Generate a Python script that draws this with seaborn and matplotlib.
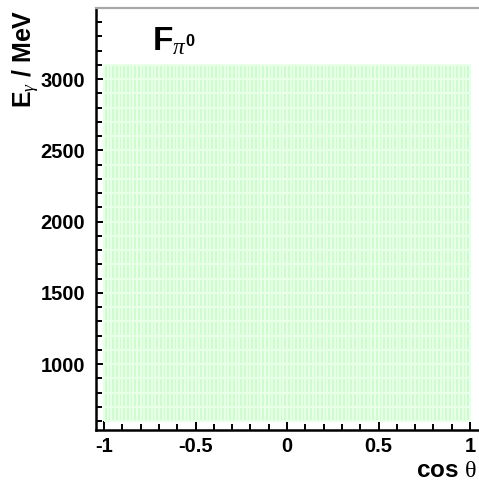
import numpy as np
import matplotlib
matplotlib.use("Agg")
import matplotlib.pyplot as plt
from matplotlib.colors import ListedColormap
from matplotlib.ticker import MultipleLocator
import seaborn as sns

sns.set_theme(style="white")
plt.rcParams["font.family"] = ["Liberation Sans", "DejaVu Sans"]
plt.rcParams["text.color"] = "black"
plt.rcParams["xtick.color"] = "black"
plt.rcParams["ytick.color"] = "black"
plt.rcParams["mathtext.fontset"] = "custom"
plt.rcParams["mathtext.rm"] = "Liberation Serif"
plt.rcParams["mathtext.bf"] = "Liberation Sans:bold"
plt.rcParams["mathtext.it"] = "Liberation Serif:italic"

# Binning of the observable F for pi0 photoproduction
cos_theta_edges = np.linspace(-1.0, 1.0, 101)
e_gamma_edges = np.linspace(600.0, 3100.0, 26)
cos_centers = 0.5 * (cos_theta_edges[:-1] + cos_theta_edges[1:])
e_centers = 0.5 * (e_gamma_edges[:-1] + e_gamma_edges[1:])

# One filled entry per (cos theta, E_gamma) bin
cc, ee = np.meshgrid(cos_centers, e_centers)
entries = np.ones_like(cc)

x_major = [-1, -0.5, 0, 0.5, 1]
x_labels = ["-1", "-0.5", "0", "0.5", "1"]
y_major = [1000, 1500, 2000, 2500, 3000]
y_labels = ["1000", "1500", "2000", "2500", "3000"]

fig = plt.figure(figsize=(4.79, 4.86), dpi=100)
ax = fig.add_axes([96 / 479, 56 / 486, (479 - 96) / 479, (430 - 8) / 486])

sns.histplot(
    x=cc.ravel(), y=ee.ravel(), weights=entries.ravel(),
    bins=[cos_theta_edges, e_gamma_edges],
    cmap=ListedColormap(["#cdfccd"]), ax=ax,
    edgecolor="#e8ffe8", linewidth=0.3,
)

ax.set_xlim(-1.044, 1.049)
ax.set_ylim(537, 3500)

ax.set_xticks(x_major)
ax.set_xticklabels(x_labels, fontsize=14.5, fontweight="bold")
ax.set_yticks(y_major)
ax.set_yticklabels(y_labels, fontsize=14.5, fontweight="bold")
ax.xaxis.set_minor_locator(MultipleLocator(0.1))
ax.yaxis.set_minor_locator(MultipleLocator(100))
ax.tick_params(which="both", direction="in", top=False, right=False,
               bottom=True, left=True, width=1.4, color="black")
ax.tick_params(which="major", length=7.5)
ax.tick_params(which="minor", length=4.5)
ax.tick_params(axis="x", which="major", pad=5)
ax.tick_params(axis="y", which="major", pad=8)

for side in ("left", "bottom"):
    ax.spines[side].set_color("black")
    ax.spines[side].set_linewidth(1.8)
ax.spines["top"].set_color("#a8a8a8")
ax.spines["top"].set_linewidth(1.6)
ax.spines["right"].set_visible(False)

ax.set_xlabel("")
ax.set_ylabel("")
fig.text(477 / 479, 1 - 477 / 486, r"cos $\mathrm{\theta}$", ha="right", va="baseline",
         fontsize=17.5, fontweight="bold")
fig.text(26 / 479, 1 - 59 / 486, r"$\mathbf{E}_{\gamma}$ / MeV", rotation=90,
         ha="center", va="center", fontsize=18, fontweight="bold")
ax.text(0.147, 0.9005, r"$\mathbf{F}_{\pi^{\mathbf{0}}}$", transform=ax.transAxes,
        ha="left", va="baseline", fontsize=24, fontweight="bold")

fig.savefig("out.png", dpi=100)
